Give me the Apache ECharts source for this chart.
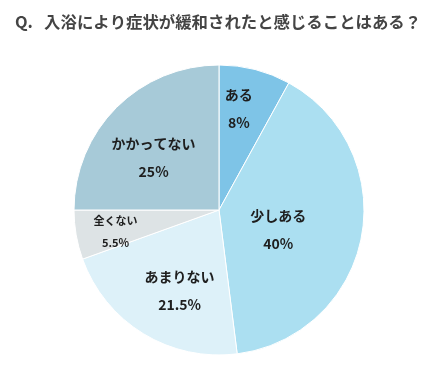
<!DOCTYPE html>
<html><head><meta charset="utf-8">
<script src="https://cdn.jsdelivr.net/npm/echarts@6/dist/echarts.min.js"></script>
<style>html,body{margin:0;padding:0;background:#fff}#c{width:431px;height:379px}</style>
</head><body><div id="c"></div>
<script>
const titleText = 'Q.   入浴により症状が緩和されたと感じることはある？';
const categories = ['ある', '少しある', 'あまりない', '全くない', 'かかってない'];
const values = [8, 40, 21.5, 5.5, 25];

const colors = ['#7ec4e7', '#abdff1', '#ddf1f9', '#dde3e5', '#a7cad8'];
const labelShift = [[1, -28], [-15, 6], [0, 16], [-29, 9], [-12, 1]];
const labelSize = [14, 14, 14, 11, 14];
const labelLH = [28, 28, 28, 22, 28];

const chart = echarts.init(document.getElementById('c'), null, {renderer: 'canvas'});
chart.setOption({
  animation: false,
  title: {
    text: titleText, left: 15, top: 14, padding: 0,
    textStyle: {fontFamily: 'Noto Sans CJK JP', fontWeight: 'bold', fontSize: 16.4, color: '#444444'}
  },
  series: [{
    type: 'pie',
    center: [219, 210], radius: 145,
    startAngle: 90, clockwise: true,
    itemStyle: {borderColor: '#ffffff', borderWidth: 1},
    label: {
      position: 'inside',
      formatter: '{b}\n{c}%',
      fontFamily: 'Noto Sans CJK JP', fontWeight: 'bold', color: '#1e1e1e'
    },
    labelLine: {show: false},
    labelLayout: function (p) {
      const s = labelShift[p.dataIndex];
      return {dx: s[0], dy: s[1]};
    },
    data: categories.map((n, i) => ({
      name: n, value: values[i],
      itemStyle: {color: colors[i]},
      label: {fontSize: labelSize[i], lineHeight: labelLH[i]}
    }))
  }]
});
</script></body></html>
